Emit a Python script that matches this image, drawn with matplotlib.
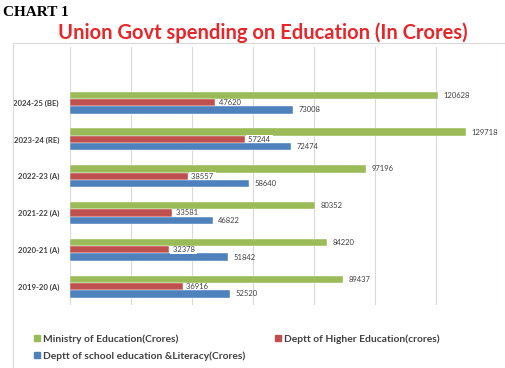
import matplotlib
matplotlib.use("Agg")
import matplotlib.pyplot as plt
from matplotlib.patches import Rectangle, Patch
import numpy as np

categories = ["2019-20 (A)", "2020-21 (A)", "2021-22 (A)", "2022-23 (A)", "2023-24 (RE)", "2024-25 (BE)"]
ministry = [89437, 84220, 80352, 97196, 129718, 120628]
higher = [36916, 32378, 33581, 38557, 57244, 47620]
school = [52520, 51842, 46822, 58640, 72474, 73008]
series_names = ["Ministry of Education(Crores)", "Deptt of Higher Education(crores)",
                "Deptt of school education &Literacy(Crores)"]

GREEN = "#9BBB59"
RED = "#C0504D"
BLUE = "#4F81BD"
FONT = ["Lato", "DejaVu Sans"]

W, H = 505, 368
fig = plt.figure(figsize=(W / 100, H / 100), dpi=100)

# chart area frame
fig.patches.append(Rectangle((13 / W, -0.01), 1.0, 1 - 43 / H + 0.01, transform=fig.transFigure,
                             facecolor="none", edgecolor="#D9D9D9", lw=0.8))

ax = fig.add_axes([70 / W, 1 - 305 / H, (497 - 70) / W, (305 - 47) / H])
y = np.arange(len(categories))
h = 0.2
ax.barh(y + h, ministry, height=h, color=GREEN, edgecolor="white", linewidth=0.3, zorder=3)
ax.barh(y, higher, height=h, color=RED, edgecolor="white", linewidth=0.3, zorder=3)
ax.barh(y - h, school, height=h, color=BLUE, edgecolor="white", linewidth=0.3, zorder=3)

ax.set_xlim(0, 140000)
ax.set_ylim(-0.5, 6.51)
ax.set_xticks(np.arange(0, 140001, 20000))
ax.xaxis.grid(True, color="#D9D9D9", lw=0.8, zorder=0)
ax.tick_params(axis="x", length=0, labelbottom=False)
ax.tick_params(axis="y", length=0, pad=8)
ax.set_yticks(y)
ax.set_yticklabels(categories, fontsize=5.6, fontweight="bold", color="#404040", family=FONT)
for s in ax.spines.values():
    s.set_visible(False)

off = 1800
for i in range(len(categories)):
    ax.text(ministry[i] + off, y[i] + h, str(ministry[i]), fontsize=5.5, color="#404040",
            va="center", ha="left", family=FONT, zorder=5)
    ax.text(higher[i] + 600, y[i], " " + str(higher[i]) + " ", fontsize=5.5, color="#404040",
            va="center", ha="left", family=FONT, zorder=5,
            bbox=dict(facecolor="white", edgecolor="none", pad=0.3))
    ax.text(school[i] + off, y[i] - h, str(school[i]), fontsize=5.5, color="#404040",
            va="center", ha="left", family=FONT, zorder=5)

fig.text(3 / W, 1 - 12 / H, "CHART 1", fontsize=11, fontweight="bold", family="Liberation Serif",
         color="black", va="center", ha="left")
fig.text(263 / W, 1 - 33 / H, "Union Govt spending on Education (In Crores)", fontsize=14.5,
         fontweight="bold", family=FONT, color="#E8262A", va="center", ha="center")

handles = [Patch(color=GREEN), Patch(color=BLUE), Patch(color=RED)]
labels = [series_names[0], series_names[2], series_names[1]]
leg = fig.legend(handles, labels, ncol=2, loc="upper left", bbox_to_anchor=(29 / W, 1 - 329 / H),
                 frameon=False, prop=dict(family=FONT, weight="bold", size=7.4),
                 handlelength=0.55, handleheight=0.55, handletextpad=0.3, columnspacing=2.9,
                 labelspacing=0.75, borderpad=0)
for t in leg.get_texts():
    t.set_color("#404040")

fig.savefig("out.png", dpi=100)
